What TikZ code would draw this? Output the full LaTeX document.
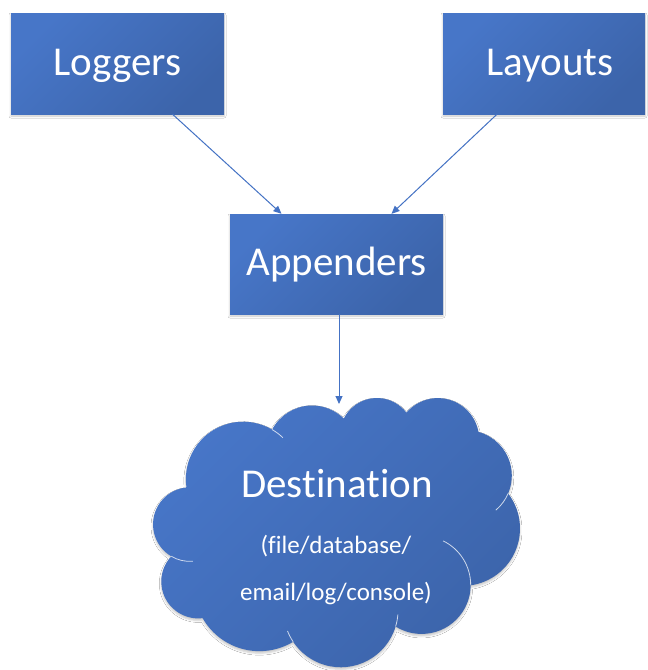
\documentclass[tikz,border=0pt]{standalone}
\usepackage{fontspec}
\setmainfont{Carlito}[Ligatures={NoCommon,NoRequired,NoContextual}]
\usetikzlibrary{arrows.meta, shadows.blur}

\definecolor{boxlight}{RGB}{71,118,200}
\definecolor{boxdark}{RGB}{60,100,170}
\definecolor{linkblue}{RGB}{68,114,196}

\begin{document}
\begin{tikzpicture}[x=1pt, y=1pt,
  softshadow/.style={blur shadow={shadow xshift=0pt, shadow yshift=-2pt,
      shadow blur radius=2pt, shadow opacity=22}},
  block/.style={rectangle, minimum width=213pt, minimum height=101pt,
      inner sep=0pt, top color=boxlight, bottom color=boxdark,
      shading angle=45, text=white, softshadow,
      text height=28pt, text depth=5pt,
      font=\fontsize{41}{49}\selectfont},
  link/.style={draw=linkblue, line width=1pt,
      -{Triangle[length=8pt, width=7pt]}},
  cloudbody/.style={top color=boxlight, bottom color=boxdark,
      shading angle=45, softshadow},
  puffline/.style={draw=white, draw opacity=0.75, line width=0.8pt},
  bigtext/.style={text=white, inner sep=0pt, font=\fontsize{41}{49}\selectfont},
  smalltext/.style={text=white, inner sep=0pt, font=\fontsize{25}{30}\selectfont}]

\useasboundingbox (0,0) rectangle (648,-670);
\fill[white] (0,0) rectangle (648,-670);
\clip (0,0) rectangle (648,-670);

% the three components
\node[block] (logg) at (117.5,-63.5) {Loggers};
\node[block, minimum width=202pt] (lay) at (544,-63.5) {\hspace*{12pt}Layouts};
\node[block, minimum height=100pt] (app) at (336.5,-264) {Appenders};

% destination cloud: eleven puffs traced clockwise
\path[cloudbody] (186.39,-486.66) coordinate (s0)
  arc[start angle=187.745, delta angle=-128.12, x radius=57.30pt, y radius=57.25pt] coordinate (e1)
  arc[start angle=152.02,  delta angle=-106.57, x radius=45.25pt, y radius=45.27pt] coordinate (e2)
  arc[start angle=153.50,  delta angle=-116.18, x radius=37.04pt, y radius=37.04pt] coordinate (e3)
  arc[start angle=139.71,  delta angle=-129.50, x radius=41.21pt, y radius=41.09pt] coordinate (e4)
  arc[start angle=74.77,   delta angle=-97.98,  x radius=45.25pt, y radius=45.31pt] coordinate (e5)
  arc[start angle=37.52,   delta angle=-119.38, x radius=57.48pt, y radius=57.44pt] coordinate (e6)
  arc[start angle=-0.4596, delta angle=-121.52, x radius=49.08pt, y radius=49.01pt] coordinate (e7)
  arc[start angle=-16.84,  delta angle=-129.39, x radius=57.29pt, y radius=57.41pt] coordinate (e8)
  arc[start angle=-59.00,  delta angle=-91.18,  x radius=65.50pt, y radius=65.68pt] coordinate (e9)
  arc[start angle=-83.31,  delta angle=-139.80, x radius=36.99pt, y radius=36.87pt] coordinate (e10)
  arc[start angle=-120.36, delta angle=-143.75, x radius=36.87pt, y radius=37.04pt] coordinate (e11)
  -- cycle;

% folds where one puff runs on into the next
\draw[puffline] (e10) arc[start angle=-120.36, end angle=-85.54, x radius=36.87pt, y radius=37.04pt];
\draw[puffline] (e8) arc[start angle=-146.23, end angle=-158.48, x radius=57.29pt, y radius=57.41pt];
\draw[puffline] (e7) arc[start angle=-16.84, end angle=-4.735, x radius=57.29pt, y radius=57.41pt];
\draw[puffline] (e6) arc[start angle=-0.4596, end angle=64.03, x radius=49.08pt, y radius=49.01pt];
\draw[puffline] (e5) arc[start angle=-23.21, end angle=-49.64, x radius=45.25pt, y radius=45.31pt];
\draw[puffline] (e1) arc[start angle=59.63, end angle=46.06, x radius=57.30pt, y radius=57.25pt];

% cloud labels
\node[bigtext, anchor=base] (dest) at (337,-497) {Destination};
\node[smalltext, anchor=base] (destkinds) at (336,-553) {(file/database/};
\node[smalltext, anchor=base] (destkindsb) at (336,-600) {email/log/console)};

% connectors
\coordinate (cloudtop) at (339,-404);
\draw[link] ([xshift=55pt]logg.south) -- ([xshift=-55pt]app.north);
\draw[link] ([xshift=-47pt]lay.south) -- ([xshift=55pt]app.north);
\draw[link] (app.south -| cloudtop) -- (cloudtop);
\end{tikzpicture}
\end{document}
